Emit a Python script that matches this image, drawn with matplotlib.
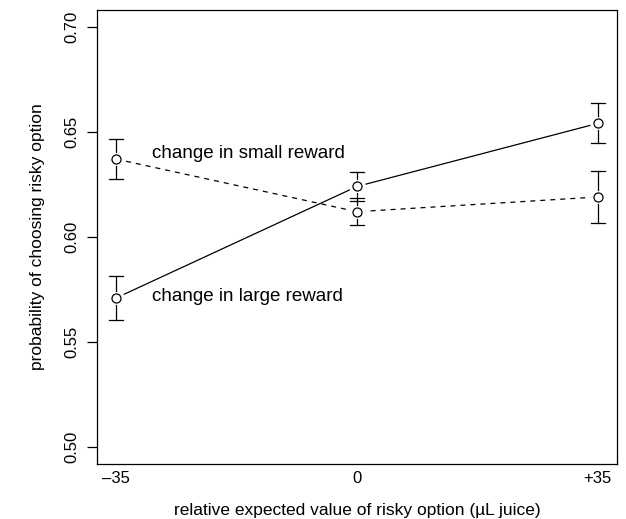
import numpy as np
import matplotlib
matplotlib.use('Agg')
import matplotlib.pyplot as plt

plt.rcParams['font.family'] = ['Liberation Sans', 'DejaVu Sans']

# data
ev = [-35, 0, 35]
ev_labels = ['\u201335', '0', '+35']

large_mean = [0.571, 0.624, 0.654]
large_se   = [0.0105, 0.0068, 0.0095]
small_mean = [0.637, 0.612, 0.619]
small_se   = [0.0095, 0.0065, 0.0125]

fig = plt.figure(figsize=(6.26, 5.19), dpi=100)
ax = fig.add_axes([0.155, 0.106, 0.8306, 0.875])
ax.set_xlim(-37.8, 37.8)
ax.set_ylim(0.492, 0.708)

# lines behind, white disks make the gap around each point
ax.plot(ev, large_mean, color='k', lw=0.9, ls='-', zorder=1)
ax.plot(ev, small_mean, color='k', lw=0.9, ls=(0, (4, 4)), zorder=1)
for m in (large_mean, small_mean):
    ax.plot(ev, m, ls='none', marker='o', ms=11, mfc='white', mec='white', zorder=2)
    ax.plot(ev, m, ls='none', marker='o', ms=6.5, mfc='white', mec='k', mew=0.9, zorder=3)

# error bars drawn apart from the marker, with a cap at the end
fig.canvas.draw()
h_px = ax.get_window_extent().height
dpp = (0.708 - 0.492) / h_px
gap = 7 * dpp
cap = 1.0
for m, se in ((large_mean, large_se), (small_mean, small_se)):
    for x, y, e in zip(ev, m, se):
        for s in (1, -1):
            if e > gap:
                ax.plot([x, x], [y + s * gap, y + s * e], color='k', lw=0.9, zorder=2)
            ax.plot([x - cap, x + cap], [y + s * e, y + s * e], color='k', lw=0.9, zorder=2)

ax.text(-29.8, 0.6395, 'change in small reward', fontsize=13.5, va='center')
ax.text(-29.8, 0.5715, 'change in large reward', fontsize=13.5, va='center')

ax.set_xticks(ev)
ax.set_xticklabels(ev_labels, fontsize=12)
ax.tick_params(axis='x', length=0, pad=5)
ax.set_yticks([0.50, 0.55, 0.60, 0.65, 0.70])
ax.set_yticklabels(['0.50', '0.55', '0.60', '0.65', '0.70'], fontsize=12,
                   rotation=90, va='center')
ax.tick_params(axis='y', length=7, width=0.9, pad=6)
for sp in ax.spines.values():
    sp.set_linewidth(0.9)

ax.set_xlabel('relative expected value of risky option (\u00b5L juice)', fontsize=12.5, labelpad=12)
ax.set_ylabel('probability of choosing risky option', fontsize=12.5, labelpad=14)

fig.savefig('out.png', dpi=100)
